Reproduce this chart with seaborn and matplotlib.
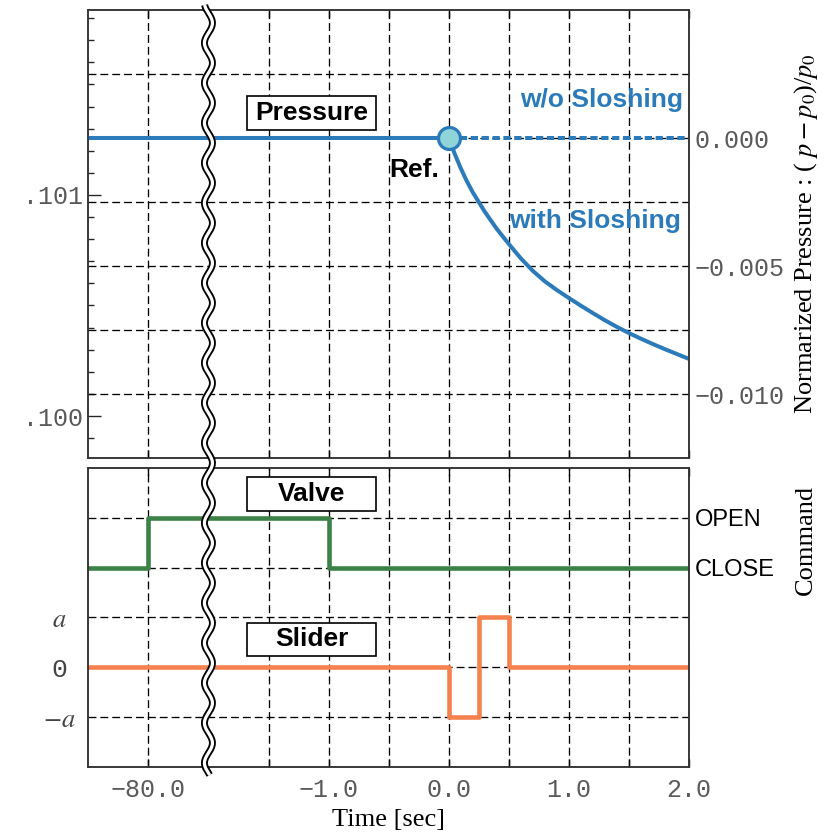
import numpy as np
import matplotlib
matplotlib.use("Agg")
import matplotlib.pyplot as plt
import matplotlib.transforms as mtrans
from matplotlib.patches import Rectangle
from matplotlib.lines import Line2D
from matplotlib.ticker import MultipleLocator
import seaborn as sns

# ---------------- data ----------------
# Pressure (normalized, (p - p0)/p0) vs time [sec] (display axis: -80 s shown at -2.5)
before_t = [-3.0, 0.0]
before_p = [0.0, 0.0]
wo_t = [0.0, 2.0]
wo_p = [0.0, 0.0]
with_t = [0.0, 0.05, 0.1, 0.15, 0.2, 0.25, 0.3, 0.4, 0.5, 0.6, 0.7, 0.8, 0.9,
          1.0, 1.1, 1.2, 1.3, 1.4, 1.5, 1.6, 1.7, 1.8, 1.9, 2.0]
with_p = [0.0, -0.00062, -0.00118, -0.00168, -0.00212, -0.00250, -0.00288,
          -0.00355, -0.00414, -0.00470, -0.00519, -0.00560, -0.00594,
          -0.00625, -0.00655, -0.00684, -0.00712, -0.00738, -0.00762,
          -0.00784, -0.00805, -0.00825, -0.00844, -0.00863]
ref_t = [0.0]
ref_p = [0.0]

# Commands (valve: 2 = CLOSE, 3 = OPEN ; slider: -1 = -a, 0, 1 = a)
valve_t = [-3.0, -2.5, -1.0, 2.0]
valve_cmd = [2, 3, 2, 2]
slider_t = [-3.0, 0.0, 0.25, 0.5, 2.0]
slider_cmd = [0, -1, 1, 0, 0]

# ticks / labels
time_ticks = [-2.5, -1.0, 0.0, 1.0, 2.0]
time_labels = ["\u221280.0", "\u22121.0", "0.0", "1.0", "2.0"]
time_minor = [-1.5, -0.5, 0.5, 1.5]
press_ticks = [0.100, 0.101]
press_labels = [".100", ".101"]
norm_ticks = [0.0, -0.005, -0.010]
norm_labels = ["0.000", "\u22120.005", "\u22120.010"]
norm_minor = [0.0025, -0.0025, -0.0075]
slider_ticks = [-1, 0, 1]
slider_labels = ["$-a$", "0", "$a$"]
valve_ticks = [2, 3]
valve_labels = ["CLOSE", "OPEN"]

# ---------------- style ----------------
sns.set_style("white")
plt.rcParams["font.family"] = ["Liberation Sans", "DejaVu Sans"]
plt.rcParams["mathtext.fontset"] = "stix"
plt.rcParams["text.color"] = "black"

BLUE = "#2b7bba"
FILL = "#8fd4d9"
GREEN = "#3b8148"
ORANGE = "#f5814f"
TICKC = "#5a5a5a"
GRID = dict(color="black", lw=0.95, linestyle=(0, (6, 3)))
MONO = "Liberation Mono"
SERIF = "Liberation Serif"

W, H = 826, 833
fig = plt.figure(figsize=(W / 100, H / 100), dpi=100)
L, R = 88.3, 689.0
ax = fig.add_axes([L / W, 1 - 458 / H, (R - L) / W, (458 - 10) / H])
axb = fig.add_axes([L / W, 1 - 767 / H, (R - L) / W, (767 - 468) / H])
ax2 = ax.twinx()
axb2 = axb.twinx()

# ---------------- top panel ----------------
sns.lineplot(x=before_t, y=before_p, ax=ax2, color=BLUE, lw=2.9)
sns.lineplot(x=wo_t, y=wo_p, ax=ax2, color=BLUE, lw=2.9)
ax2.get_lines()[-1].set_linestyle((0, (1.8, 0.9)))
sns.lineplot(x=with_t, y=with_p, ax=ax2, color=BLUE, lw=2.9)
sns.scatterplot(x=ref_t, y=ref_p, ax=ax2, s=250, color=FILL, edgecolor=BLUE,
                linewidth=2.3, zorder=6, clip_on=False)

ax.set_xlim(-3, 2)
ax2.set_xlim(-3, 2)
ax.set_ylim(0.09981, 0.101837)
ax2.set_ylim(-0.0125, 0.005)

ax.set_xticks(time_ticks)
ax.set_xticks(time_minor, minor=True)
ax.tick_params(axis="x", which="both", direction="in", length=6, width=1,
               top=True, bottom=True, labelbottom=False, color="black")
ax.set_yticks(press_ticks, press_labels, fontfamily=MONO, fontsize=18, color=TICKC)
ax.yaxis.set_minor_locator(MultipleLocator(0.0001))
ax.tick_params(axis="y", which="major", direction="in", length=9, width=1, pad=4)
ax.tick_params(axis="y", which="minor", direction="in", length=4.5, width=1)
ax.grid(axis="x", which="both", **GRID)
ax.grid(axis="y", which="both", visible=False)

ax2.set_yticks(norm_ticks, norm_labels, fontfamily=MONO, fontsize=18, color=TICKC)
ax2.set_yticks(norm_minor, minor=True)
ax2.tick_params(axis="y", which="both", length=0, pad=4)
ax2.set_axisbelow(True)
ax2.grid(axis="y", which="both", **GRID)
ax2.set_ylabel("Normarized Pressure : ( $p-p_0$)/$p_0$", fontfamily=SERIF,
               fontsize=19, labelpad=5, color="black")

BOLD = dict(fontsize=19, fontweight="bold", fontfamily="Liberation Sans")
ax2.add_patch(Rectangle((-1.677, 0.00031), 1.072, 0.00133, fc="white",
                        ec="black", lw=1.2, zorder=4))
ax2.text(-1.141, 0.00098, "Pressure", ha="center", va="center", color="black",
         zorder=5, **BOLD)
ax2.text(-0.289, -0.00125, "Ref.", ha="center", va="center", color="black",
         zorder=5, **BOLD)
ax2.text(1.95, 0.00148, "w/o Sloshing", ha="right", va="center", color=BLUE,
         zorder=5, **BOLD)
ax2.text(1.934, -0.00324, "with Sloshing", ha="right", va="center", color=BLUE,
         zorder=5, **BOLD)

# ---------------- bottom panel ----------------
sns.lineplot(x=valve_t, y=valve_cmd, ax=axb, color=GREEN, lw=3.3,
             drawstyle="steps-post")
sns.lineplot(x=slider_t, y=slider_cmd, ax=axb, color=ORANGE, lw=3.3,
             drawstyle="steps-post")
axb.set_xlim(-3, 2)
axb.set_ylim(-2, 4)
axb2.set_ylim(-2, 4)

axb.set_xticks(time_ticks, time_labels, fontfamily=MONO, fontsize=18, color=TICKC)
axb.set_xticks(time_minor, minor=True)
axb.tick_params(axis="x", which="both", direction="in", length=6, width=1,
                top=True, bottom=True, pad=8, color="black")
axb.set_yticks(slider_ticks + valve_ticks, slider_labels + ["", ""],
               fontfamily=MONO, fontsize=19, color="#444444", ha="center")
axb.tick_params(axis="y", which="both", length=0, pad=21)
axb.set_axisbelow(True)
axb.grid(axis="x", which="both", **GRID)
axb.grid(axis="y", which="major", **GRID)
axb.set_xlabel("Time [sec]", fontfamily=SERIF, fontsize=19, labelpad=5,
               color="black")

axb2.set_yticks(valve_ticks, valve_labels, fontfamily="Liberation Sans",
                fontsize=17, color="black")
axb2.tick_params(axis="y", length=0, pad=4)
axb2.text(1.195, 2.55, "Command", rotation=90, ha="center", va="center",
          fontfamily=SERIF, fontsize=19, color="black",
          transform=mtrans.blended_transform_factory(axb2.transAxes, axb2.transData))

axb.add_patch(Rectangle((-1.677, 3.14), 1.072, 0.68, fc="white", ec="black",
                        lw=1.2, zorder=4))
axb.text(-1.141, 3.48, "Valve", ha="center", va="center", color="black",
         zorder=5, **BOLD)
axb.add_patch(Rectangle((-1.677, 0.227), 1.072, 0.663, fc="white", ec="black",
                        lw=1.2, zorder=4))
axb.text(-1.141, 0.56, "Slider", ha="center", va="center", color="black",
         zorder=5, **BOLD)

for a in (ax, ax2, axb, axb2):
    for s in a.spines.values():
        s.set_color("#333333")
        s.set_linewidth(1.1)

# ---------------- axis break (wavy double line) ----------------
trans = mtrans.blended_transform_factory(ax.transData, fig.transFigure)
yy = np.linspace(1 - 775 / H, 1 - 5 / H, 1200)
xx = -2.0 + (4.0 / 120.14) * np.sin(2 * np.pi * yy * H / 40.0)
fig.add_artist(Line2D(xx, yy, transform=trans, color="black", lw=5.0,
                      zorder=20, solid_capstyle="butt"))
fig.add_artist(Line2D(xx, yy, transform=trans, color="white", lw=2.3,
                      zorder=21, solid_capstyle="butt"))

fig.savefig("out.png", dpi=100)
